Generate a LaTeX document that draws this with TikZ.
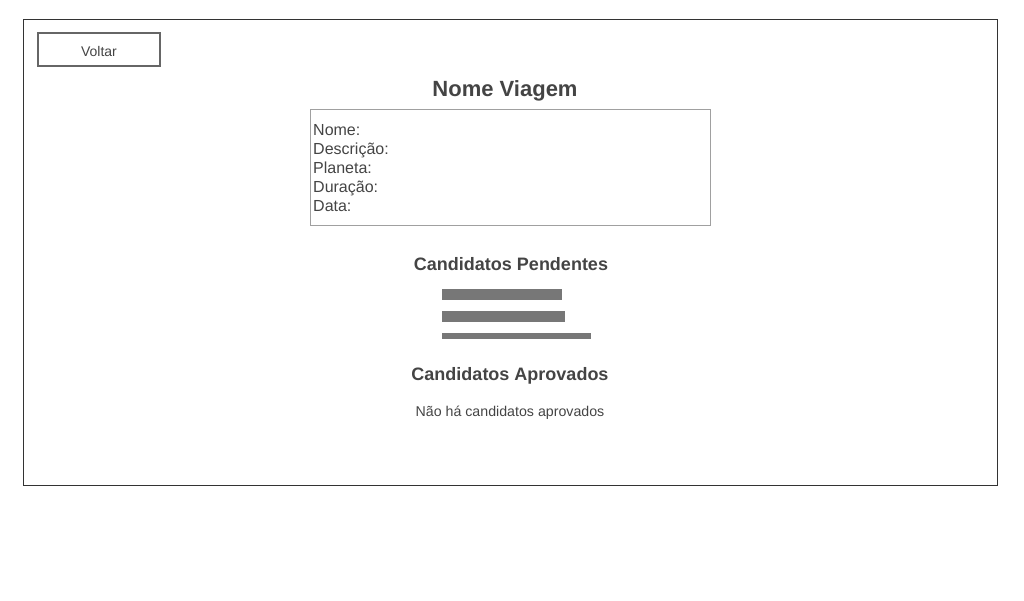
\documentclass[tikz,border=0pt]{standalone}
\usepackage{fontspec}
\setmainfont{Liberation Sans}
\definecolor{txt}{HTML}{444444}
\definecolor{bar}{HTML}{777777}
\definecolor{frame}{HTML}{333333}
\definecolor{btn}{HTML}{666666}
\definecolor{infob}{HTML}{A0A0A0}
\begin{document}
\begin{tikzpicture}[x=1pt,y=-1pt,
  lbl/.style={inner sep=0pt,text=txt},
  barbox/.style={fill=bar,draw=none}]
\useasboundingbox (0,0) rectangle (1024,600);
\draw[frame,line width=1pt] (23.5,19.5) rectangle (997.5,485.5);
\node[draw=btn,line width=2pt,minimum width=122pt,minimum height=33pt,inner sep=0pt] (voltar) at (99,49.5) {};
\node[lbl,font=\fontsize{14}{16}\selectfont] (voltarlbl) at ([yshift=-1.5pt]voltar.center) {Voltar};
\node[lbl,font=\fontsize{22}{26}\bfseries] (title) at (505,91) {Nome Viagem};
\node[draw=infob,line width=1pt,minimum width=400pt,minimum height=116pt,inner sep=0pt] (info) at (510.5,167.5) {};
\node[lbl,anchor=west,align=left,font=\fontsize{16}{19}\selectfont] (fields) at (313,168.5) {Nome:\\Descrição:\\Planeta:\\Duração:\\Data:};
\node[lbl,font=\fontsize{18}{21}\bfseries] (pend) at (511,264) {Candidatos Pendentes};
\node[barbox,minimum width=120pt,minimum height=11pt,inner sep=0pt] (b1) at (502,294.5) {};
\node[barbox,minimum width=123pt,minimum height=11pt,inner sep=0pt] (b2) at (503.5,316.5) {};
\node[barbox,minimum width=149pt,minimum height=6pt,inner sep=0pt] (b3) at (516.5,335.5) {};
\node[lbl,font=\fontsize{18}{21}\bfseries] (aprov) at (510,376) {Candidatos Aprovados};
\node[lbl,font=\fontsize{14.2}{16}\selectfont] (none) at (510,413) {Não há candidatos aprovados};
\end{tikzpicture}
\end{document}
